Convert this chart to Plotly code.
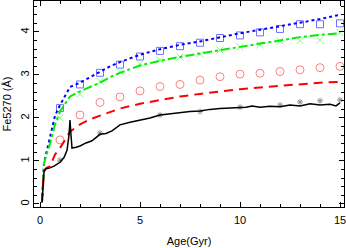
import plotly.graph_objects as go

# Lines
age_line = [0.1, 0.2, 0.3, 0.5, 0.75, 1.0, 1.5, 2.0, 2.5, 3.0, 3.5, 4.0, 5.0, 6.0, 7.0, 8.0, 9.0, 10.0, 11.0, 12.0, 13.0, 14.0, 15.0]
blue_line = [0.05, 0.95, 1.15, 1.55, 2.05, 2.3, 2.72, 2.82, 2.95, 3.08, 3.2, 3.3, 3.47, 3.6, 3.7, 3.78, 3.88, 3.97, 4.05, 4.13, 4.22, 4.3, 4.4]
green_line = [0.05, 0.95, 1.1, 1.4, 1.85, 2.15, 2.5, 2.62, 2.72, 2.82, 2.95, 3.05, 3.22, 3.33, 3.42, 3.5, 3.58, 3.65, 3.73, 3.8, 3.88, 3.93, 3.97]
red_line = [0.05, 0.78, 0.83, 0.88, 1.15, 1.3, 1.68, 1.85, 1.97, 2.05, 2.14, 2.22, 2.33, 2.42, 2.5, 2.56, 2.62, 2.67, 2.71, 2.75, 2.79, 2.82, 2.84]

age_black = [0.1, 0.15, 0.2, 0.3, 0.5, 0.7, 1.0, 1.2, 1.35, 1.45, 1.5, 1.55, 1.6, 1.8, 2.0, 2.3, 2.6, 3.0, 3.3, 3.6, 4.0, 4.5, 5.0, 5.5, 6.0, 6.5, 7.0, 7.5, 8.0, 8.5, 9.0, 9.5, 10.0, 10.3, 10.6, 11.0, 11.5, 12.0, 12.5, 13.0, 13.5, 14.0, 14.5, 14.8, 15.0]
black_line = [0.03, 0.4, 0.75, 0.82, 0.84, 0.88, 0.97, 1.08, 1.25, 1.6, 1.95, 1.6, 1.3, 1.32, 1.35, 1.42, 1.47, 1.62, 1.64, 1.7, 1.84, 1.9, 1.95, 2.0, 2.07, 2.1, 2.13, 2.15, 2.16, 2.2, 2.22, 2.23, 2.24, 2.25, 2.28, 2.25, 2.27, 2.26, 2.3, 2.28, 2.33, 2.3, 2.32, 2.28, 2.35]

# Markers
age_pts = [1, 2, 3, 4, 5, 6, 7, 8, 9, 10, 11, 12, 13, 14, 15]
blue_sq = [2.23, 2.78, 3.05, 3.24, 3.43, 3.56, 3.67, 3.75, 3.86, 3.92, 3.99, 4.07, 4.18, 4.18, 4.2]
green_x = [2.0, 2.55, 2.85, 3.08, 3.26, 3.35, 3.42, 3.48, 3.58, 3.65, 3.7, 3.79, 3.8, 3.81, 3.99]
red_circ = [1.49, 2.07, 2.36, 2.49, 2.63, 2.73, 2.78, 2.88, 2.96, 3.02, 3.04, 3.08, 3.12, 3.17, 3.2]
age_ast = [1, 3, 6, 8, 10, 12, 13, 14, 15]
black_ast = [1.02, 1.65, 2.07, 2.15, 2.25, 2.3, 2.37, 2.4, 2.42]

fig = go.Figure()
fig.add_trace(go.Scatter(x=age_pts, y=red_circ, mode="markers",
                         marker=dict(symbol="circle-open", size=8, color="#ff8080", line=dict(width=1))))
fig.add_trace(go.Scatter(x=age_pts, y=blue_sq, mode="markers",
                         marker=dict(symbol="square-open", size=7, color="#7070ff", line=dict(width=1))))
fig.add_trace(go.Scatter(x=age_pts, y=green_x, mode="markers",
                         marker=dict(symbol="x-thin-open", size=7, color="#80ff80", line=dict(width=1))))
fig.add_trace(go.Scatter(x=age_ast, y=black_ast, mode="markers",
                         marker=dict(symbol="asterisk-open", size=5, color="#909090", line=dict(width=1))))
fig.add_trace(go.Scatter(x=age_line, y=blue_line, mode="lines",
                         line=dict(color="#0000ff", width=2, dash="dot")))
fig.add_trace(go.Scatter(x=age_line, y=green_line, mode="lines",
                         line=dict(color="#00ee00", width=2, dash="dashdot")))
fig.add_trace(go.Scatter(x=age_line, y=red_line, mode="lines",
                         line=dict(color="#ff0000", width=2, dash="9px,6px")))
fig.add_trace(go.Scatter(x=age_black, y=black_line, mode="lines",
                         line=dict(color="#000000", width=1.5)))

axis_common = dict(showline=True, linecolor="black", linewidth=1, mirror="allticks",
                   ticks="inside", ticklen=5, tickcolor="black", showgrid=False, zeroline=False,
                   automargin=False, ticklabeloverflow="allow",
                   tickfont=dict(family="Liberation Sans, Arial, sans-serif", size=11, color="black"))

fig.update_layout(
    width=346, height=248,
    margin=dict(l=34, r=2, t=1, b=41),
    paper_bgcolor="white", plot_bgcolor="white",
    showlegend=False,
    font=dict(family="Liberation Sans, Arial, sans-serif", size=11, color="black"),
    xaxis=dict(range=[-0.3, 15.2], tickvals=[0, 5, 10, 15], ticklabelstandoff=3,
               minor=dict(dtick=1, tick0=0, ticks="inside", ticklen=3, tickcolor="black"),
               title=dict(text="Age(Gyr)", standoff=12, font=dict(size=11)),
               **axis_common),
    yaxis=dict(range=[-0.07, 4.72], tickvals=[0, 1, 2, 3, 4], tickangle=-90,
               minor=dict(dtick=0.2, tick0=0, ticks="inside", ticklen=3, tickcolor="black"),
               title=dict(text="Fe5270 (Å)", standoff=4, font=dict(size=11)),
               **axis_common),
)

fig.write_html("out.html", config={"displayModeBar": False},
               post_script="document.body.style.margin='0';")
